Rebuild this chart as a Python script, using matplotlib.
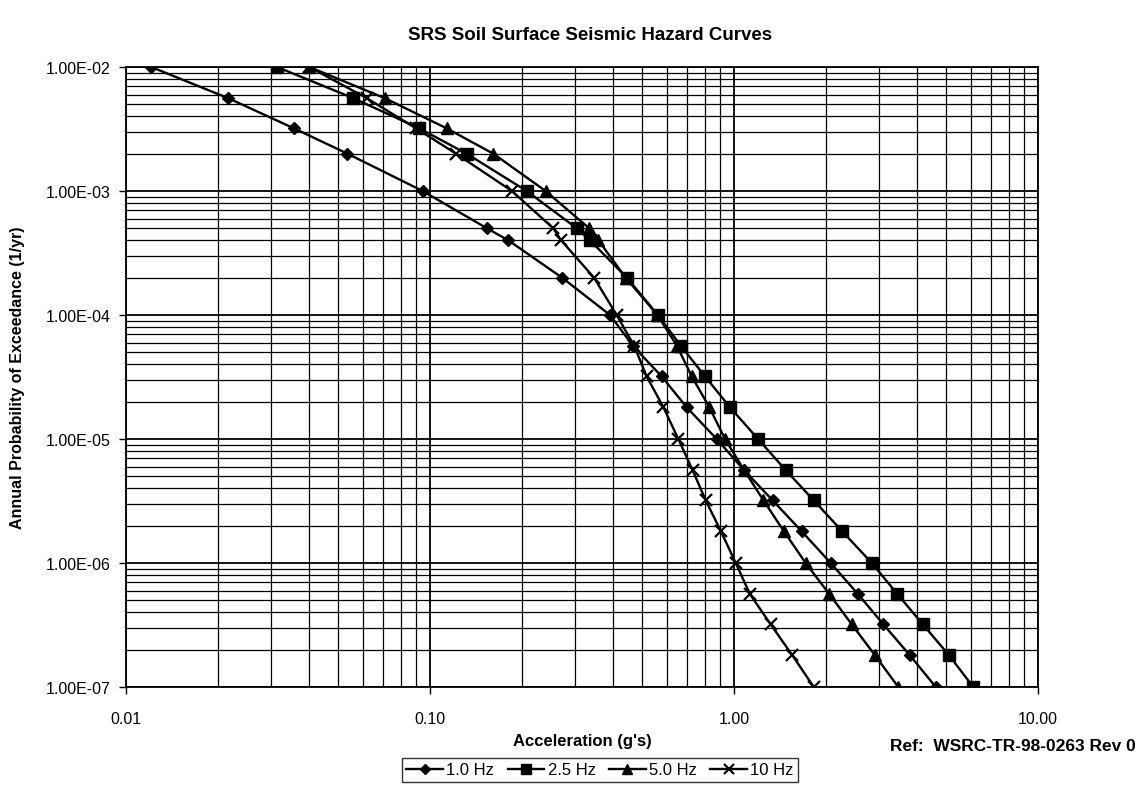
import matplotlib
matplotlib.use("Agg")
import matplotlib.pyplot as plt
from matplotlib.ticker import FixedLocator, FuncFormatter, LogLocator, NullFormatter

plt.rcParams['font.family'] = ['Liberation Sans', 'DejaVu Sans']

# Annual probability levels (shared by all curves)
prob = [1e-2, 5.6e-3, 3.2e-3, 2e-3, 1e-3, 5e-4, 4e-4, 2e-4, 1e-4, 5.6e-5,
        3.2e-5, 1.8e-5, 1e-5, 5.6e-6, 3.2e-6, 1.8e-6, 1e-6, 5.6e-7, 3.2e-7,
        1.8e-7, 1e-7]

acc_1hz = [0.0121, 0.0217, 0.0357, 0.0535, 0.0946, 0.154, 0.181, 0.272, 0.391,
           0.466, 0.578, 0.699, 0.877, 1.08, 1.34, 1.67, 2.08, 2.56, 3.10, 3.79, 4.61]
acc_2_5hz = [0.0314, 0.056, 0.0922, 0.132, 0.208, 0.304, 0.336, 0.444, 0.562,
             0.67, 0.803, 0.97, 1.20, 1.48, 1.83, 2.27, 2.84, 3.45, 4.18, 5.10, 6.12]
acc_5hz = [0.0401, 0.0711, 0.1135, 0.1615, 0.240, 0.334, 0.358, 0.44, 0.56,
           0.65, 0.726, 0.83, 0.934, 1.08, 1.25, 1.46, 1.72, 2.06, 2.44, 2.91, 3.47]
acc_10hz = [0.0401, 0.062, 0.090, 0.1218, 0.186, 0.2545, 0.27, 0.3464, 0.4113,
            0.47, 0.516, 0.586, 0.656, 0.731, 0.807, 0.906, 1.013, 1.129, 1.32, 1.556, 1.83]

series_labels = ['1.0 Hz', '2.5 Hz', '5.0 Hz', '10 Hz']
x_ticks = [0.01, 0.1, 1.0, 10.0]
y_ticks = [1e-7, 1e-6, 1e-5, 1e-4, 1e-3, 1e-2]

W, H = 1141, 804
fig = plt.figure(figsize=(W / 100, H / 100), dpi=100)
ax = fig.add_axes([126 / W, 1 - 688 / H, (1038 - 126) / W, (688 - 68) / H])

ax.set_xscale('log')
ax.set_yscale('log')
ax.set_xlim(0.01, 10)
ax.set_ylim(1e-7, 1e-2)

styles = [dict(marker='D', ms=6.5), dict(marker='s', ms=8),
          dict(marker='^', ms=8), dict(marker='x', ms=9, mew=1.6)]
for acc, lab, st in zip([acc_1hz, acc_2_5hz, acc_5hz, acc_10hz], series_labels, styles):
    ax.plot(acc, prob, color='black', lw=1.7, mfc='black', mec='black', label=lab,
            zorder=3, **st)

ax.xaxis.set_major_locator(FixedLocator(x_ticks))
ax.yaxis.set_major_locator(FixedLocator(y_ticks))
ax.xaxis.set_minor_locator(LogLocator(base=10, subs=range(2, 10)))
ax.yaxis.set_minor_locator(LogLocator(base=10, subs=range(2, 10)))
ax.xaxis.set_minor_formatter(NullFormatter())
ax.yaxis.set_minor_formatter(NullFormatter())
ax.xaxis.set_major_formatter(FuncFormatter(lambda v, p: f"{v:.2f}"))
ax.yaxis.set_major_formatter(FuncFormatter(lambda v, p: f"{v:.2E}"))

ax.grid(True, which='major', color='black', lw=1.3)
ax.grid(True, which='minor', color='black', lw=0.9)
ax.set_axisbelow(True)
ax.tick_params(which='major', length=5, width=1, labelsize=11.5, direction='out')
ax.tick_params(axis='x', pad=12)
ax.tick_params(axis='y', pad=6)
ax.tick_params(which='minor', length=0)
for s in ax.spines.values():
    s.set_linewidth(1.3)
    s.set_color('black')

fig.text(590 / W, 1 - 36 / H, 'SRS Soil Surface Seismic Hazard Curves', ha='center', va='center',
         fontsize=13.5, fontweight='bold')
fig.text(582 / W, 1 - 742 / H, "Acceleration (g's)", ha='center', va='center',
         fontsize=12, fontweight='bold')
fig.text(18 / W, 1 - 378 / H, 'Annual Probability of Exceedance (1/yr)', ha='center',
         va='center', rotation=90, fontsize=11.5, fontweight='bold')

handles, labels = ax.get_legend_handles_labels()
leg = fig.legend(handles, labels, loc='upper center', bbox_to_anchor=(600 / W, 1 - 751 / H),
                 ncol=4, frameon=True, fancybox=False, edgecolor='black', fontsize=12,
                 handlelength=2.2, handletextpad=0.2, columnspacing=0.8, borderpad=0.25,
                 markerscale=0.85)
leg.get_frame().set_linewidth(1.0)

fig.text(1136 / W, 1 - 747 / H, 'Ref:  WSRC-TR-98-0263 Rev 0', ha='right', va='center',
         fontsize=12.5, fontweight='bold')

fig.savefig('out.png', dpi=100)
